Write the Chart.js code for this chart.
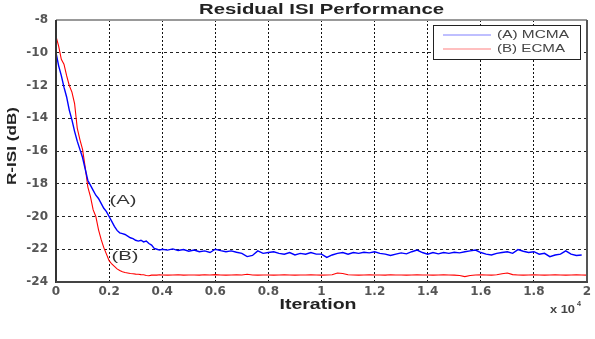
<!DOCTYPE html>
<html>
<head>
<meta charset="utf-8">
<script src="https://cdn.jsdelivr.net/npm/chart.js@4.4.1/dist/chart.umd.min.js"></script>
<style>
  html, body { margin: 0; padding: 0; background: #fff; }
  #wrap { width: 595px; height: 339px; }
</style>
</head>
<body>
<div id="wrap"><canvas id="isiChart" width="595" height="339"></canvas></div>
<script>
// === 数据 (x 轴单位: x 10^4 次迭代) ===
const iterations = [
  0, 0.01, 0.02, 0.03, 0.04, 0.05, 0.06, 0.07, 0.08, 0.09,
  0.10, 0.11, 0.12, 0.13, 0.14, 0.15, 0.16, 0.17, 0.18, 0.19,
  0.20, 0.21, 0.22, 0.23, 0.24, 0.25, 0.26, 0.27, 0.28, 0.29,
  0.30, 0.31, 0.32, 0.33, 0.34, 0.35, 0.36, 0.37, 0.38, 0.39, 0.40,
  0.42, 0.44, 0.46, 0.48, 0.50, 0.52, 0.54, 0.56, 0.58, 0.60,
  0.62, 0.64, 0.66, 0.68, 0.70, 0.72, 0.74, 0.76, 0.78, 0.80,
  0.82, 0.84, 0.86, 0.88, 0.90, 0.92, 0.94, 0.96, 0.98, 1.00,
  1.02, 1.04, 1.06, 1.08, 1.10, 1.12, 1.14, 1.16, 1.18, 1.20,
  1.22, 1.24, 1.26, 1.28, 1.30, 1.32, 1.34, 1.36, 1.38, 1.40,
  1.42, 1.44, 1.46, 1.48, 1.50, 1.52, 1.54, 1.56, 1.58, 1.60,
  1.62, 1.64, 1.66, 1.68, 1.70, 1.72, 1.74, 1.76, 1.78, 1.80,
  1.82, 1.84, 1.86, 1.88, 1.90, 1.92, 1.94, 1.96, 1.98, 2.00
];

// (A) MCMA
const mcmaDb = [
  -10.0, -10.8, -11.4, -12.1, -12.7, -13.5, -14.1, -14.8, -15.4, -15.9,
  -16.4, -17.1, -17.8, -18.1, -18.4, -18.7, -18.9, -19.2, -19.5, -19.7,
  -20.0, -20.3, -20.6, -20.85, -21.0, -21.05, -21.1, -21.2, -21.3, -21.35,
  -21.45, -21.5, -21.45, -21.55, -21.5, -21.65, -21.75, -21.95, -22.0, -22.05, -22.0,
  -22.05, -21.98, -22.08, -22.02, -22.12, -22.05, -22.15, -22.1, -22.2, -22.0,
  -22.08, -22.15, -22.1, -22.18, -22.25, -22.45, -22.38, -22.1, -22.25, -22.2,
  -22.15, -22.25, -22.3, -22.2, -22.35, -22.25, -22.3, -22.2, -22.3, -22.3,
  -22.5, -22.35, -22.25, -22.2, -22.3, -22.2, -22.25, -22.18, -22.22, -22.15,
  -22.25, -22.3, -22.38, -22.3, -22.22, -22.28, -22.15, -22.05, -22.2, -22.3,
  -22.2, -22.28, -22.2, -22.25, -22.18, -22.22, -22.15, -22.1, -22.05, -22.2,
  -22.3, -22.35, -22.25, -22.2, -22.15, -22.25, -22.02, -22.12, -22.2, -22.15,
  -22.3, -22.25, -22.45, -22.35, -22.3, -22.1, -22.3, -22.38, -22.35, null
];

// (B) ECMA
const ecmaDb = [
  -9.0, -9.6, -10.4, -10.7, -11.4, -12.0, -12.4, -13.1, -14.6, -15.3,
  -15.9, -17.0, -18.2, -18.8, -19.6, -20.0, -20.8, -21.4, -21.9, -22.3,
  -22.7, -22.9, -23.05, -23.2, -23.3, -23.38, -23.42, -23.45, -23.48, -23.5,
  -23.52, -23.53, -23.55, -23.56, -23.6, -23.62, -23.58, -23.57, -23.58, -23.56, -23.57,
  -23.58, -23.57, -23.56, -23.58, -23.57, -23.57, -23.58, -23.56, -23.57, -23.55,
  -23.57, -23.58, -23.57, -23.56, -23.57, -23.53, -23.57, -23.58, -23.57, -23.57,
  -23.58, -23.57, -23.56, -23.57, -23.58, -23.57, -23.57, -23.56, -23.57, -23.58,
  -23.57, -23.56, -23.45, -23.48, -23.56, -23.57, -23.58, -23.57, -23.56, -23.57,
  -23.57, -23.58, -23.56, -23.57, -23.57, -23.58, -23.57, -23.56, -23.57, -23.57,
  -23.58, -23.57, -23.56, -23.57, -23.58, -23.6, -23.67, -23.6, -23.57, -23.56,
  -23.57, -23.58, -23.56, -23.5, -23.45, -23.55, -23.57, -23.58, -23.57, -23.56,
  -23.57, -23.58, -23.57, -23.56, -23.57, -23.58, -23.57, -23.56, -23.57, -23.58
];

const xTicks = [0, 0.2, 0.4, 0.6, 0.8, 1, 1.2, 1.4, 1.6, 1.8, 2];
const xTickLabels = ['0', '0.2', '0.4', '0.6', '0.8', '1', '1.2', '1.4', '1.6', '1.8', '2'];
const yTicks = [-24, -22, -20, -18, -16, -14, -12, -10, -8];

const seriesNames = ['(A) MCMA', '(B) ECMA'];
const seriesColors = ['#0000ff', '#ff0000'];

// 文字按目标宽度横向拉伸 (原图文字较宽)
function drawFit(ctx, text, cx, cy, font, width, color, align) {
    ctx.save();
    ctx.font = font;
    ctx.fillStyle = color;
    ctx.textBaseline = 'middle';
    const w = ctx.measureText(text).width;
    const sx = width / w;
    let x0 = align === 'left' ? cx : cx - width / 2;
    ctx.translate(x0, cy);
    ctx.scale(sx, 1);
    ctx.textAlign = 'left';
    ctx.fillText(text, 0, 0);
    ctx.restore();
}

const decorPlugin = {
    id: 'decor',
    afterDraw(chart) {
        const ctx = chart.ctx;
        const a = chart.chartArea;
        const cx = (a.left + a.right) / 2;

        // 坐标框
        ctx.save();
        ctx.lineWidth = 2;
        ctx.strokeStyle = '#999';
        ctx.beginPath(); ctx.moveTo(a.left, a.top); ctx.lineTo(a.right, a.top); ctx.stroke();
        ctx.strokeStyle = '#555';
        ctx.beginPath(); ctx.moveTo(a.right, a.top); ctx.lineTo(a.right, a.bottom); ctx.stroke();
        ctx.strokeStyle = '#333';
        ctx.beginPath(); ctx.moveTo(a.left, a.top); ctx.lineTo(a.left, a.bottom + 1); ctx.stroke();
        ctx.strokeStyle = '#444';
        ctx.beginPath(); ctx.moveTo(a.left, a.bottom); ctx.lineTo(a.right + 1, a.bottom); ctx.stroke();
        ctx.restore();

        // 标题 / 轴标题
        drawFit(ctx, 'Residual ISI Performance', cx, 10, 'bold 14px "Liberation Sans"', 245, '#222');
        drawFit(ctx, 'Iteration', 318, 305, 'bold 15px "Liberation Sans"', 77, '#222');
        ctx.save();
        ctx.translate(12, 146);
        ctx.rotate(-Math.PI / 2);
        drawFit(ctx, 'R-ISI (dB)', 0, 0, 'bold 13px "Liberation Sans"', 78, '#222');
        ctx.restore();
        drawFit(ctx, 'x 10', 550, 310, 'bold 10px "Liberation Sans"', 25, '#444', 'left');
        drawFit(ctx, '4', 577, 304, 'bold 7px "Liberation Sans"', 4, '#444', 'left');

        // 曲线标注
        drawFit(ctx, '(A)', 123, 200, '13px "Liberation Sans"', 27, '#333');
        drawFit(ctx, '(B)', 125, 256, '13px "Liberation Sans"', 27, '#333');

        // 图例
        ctx.save();
        ctx.fillStyle = '#fff';
        ctx.fillRect(433.5, 25.5, 147, 34);
        ctx.strokeStyle = '#222';
        ctx.lineWidth = 1;
        ctx.strokeRect(433.5, 25.5, 147, 34);
        const legendLine = ['#8080ff', '#ff8080'];
        seriesNames.forEach((name, i) => {
            const y = 35 + i * 14;
            ctx.strokeStyle = legendLine[i];
            ctx.lineWidth = 1.2;
            ctx.beginPath(); ctx.moveTo(443, y); ctx.lineTo(491, y); ctx.stroke();
            drawFit(ctx, name, 497, y, '11px "Liberation Sans"', i === 0 ? 72 : 68, '#444', 'left');
        });
        ctx.restore();
    }
};

const ctx = document.getElementById('isiChart').getContext('2d');
const chart = new Chart(ctx, {
    type: 'line',
    data: {
        datasets: [
            {
                label: seriesNames[0],
                data: iterations.map((x, i) => ({ x: x, y: mcmaDb[i] })),
                borderColor: seriesColors[0],
                borderWidth: 1.4,
                pointRadius: 0,
                tension: 0,
                fill: false
            },
            {
                label: seriesNames[1],
                data: iterations.map((x, i) => ({ x: x, y: ecmaDb[i] })),
                borderColor: seriesColors[1],
                borderWidth: 1.1,
                pointRadius: 0,
                tension: 0,
                fill: false
            }
        ]
    },
    options: {
        responsive: false,
        animation: false,
        layout: { padding: { top: 20, right: 8, left: 0, bottom: 0 } },
        plugins: {
            legend: { display: false },
            title: { display: false },
            tooltip: { enabled: false }
        },
        scales: {
            x: {
                type: 'linear',
                min: 0,
                max: 2,
                afterBuildTicks: s => { s.ticks = xTicks.map(v => ({ value: v })); },
                afterFit: s => { s.height = 57; },
                ticks: {
                    autoSkip: false,
                    maxRotation: 0,
                    padding: 3,
                    color: '#555',
                    font: { family: 'DejaVu Sans', size: 12, weight: 'bold' },
                    callback: (v, i) => xTickLabels[i]
                },
                grid: { color: '#111', lineWidth: 1, drawTicks: false },
                border: { display: false, dash: [2, 2] }
            },
            y: {
                type: 'linear',
                min: -24,
                max: -8,
                afterBuildTicks: s => { s.ticks = yTicks.map(v => ({ value: v })); },
                afterFit: s => { s.width = 56; },
                ticks: {
                    autoSkip: false,
                    padding: 8,
                    color: '#555',
                    font: { family: 'DejaVu Sans', size: 12, weight: 'bold' },
                    callback: v => String(v)
                },
                grid: { color: '#222', lineWidth: 1, drawTicks: false },
                border: { display: false, dash: [3, 3] }
            }
        }
    },
    plugins: [decorPlugin]
});
</script>
</body>
</html>
